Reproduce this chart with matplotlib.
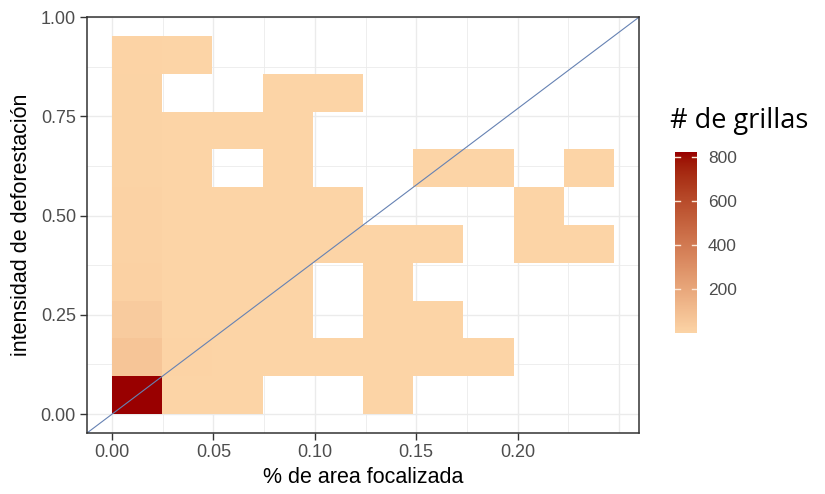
import numpy as np
import matplotlib
matplotlib.use("Agg")
import matplotlib.pyplot as plt
from matplotlib.colors import ListedColormap, Normalize

# ---------------- data ----------------
x_bin_width = 0.02475
y_bin_width = 0.0952
n_xbins = 10
n_ybins = 10
# counts per row (bottom -> top), columns left -> right
row0 = [825, 3, 2, 0, 0, 1, 0, 0, 0, 0]
row1 = [70, 5, 3, 2, 1, 1, 1, 1, 0, 0]
row2 = [42, 4, 3, 2, 0, 1, 1, 0, 0, 0]
row3 = [16, 4, 3, 2, 0, 1, 0, 0, 0, 0]
row4 = [12, 4, 3, 2, 1, 1, 1, 0, 1, 1]
row5 = [11, 3, 2, 2, 1, 0, 0, 0, 1, 0]
row6 = [10, 3, 0, 1, 0, 0, 1, 1, 0, 1]
row7 = [10, 2, 2, 1, 0, 0, 0, 0, 0, 0]
row8 = [8, 0, 0, 1, 1, 0, 0, 0, 0, 0]
row9 = [6, 2, 0, 0, 0, 0, 0, 0, 0, 0]
x_ticks = [0.00, 0.05, 0.10, 0.15, 0.20]
y_ticks = [0.00, 0.25, 0.50, 0.75, 1.00]
legend_ticks = [200, 400, 600, 800]
low_color = "#FCD4A6"
high_color = "#990000"

counts = np.array([row0, row1, row2, row3, row4, row5, row6, row7, row8, row9], dtype=float)
x_edges = np.arange(n_xbins + 1) * x_bin_width
y_edges = np.arange(n_ybins + 1) * y_bin_width
xmax = x_edges[-1]
ymax = y_edges[-1]

# ---------------- Lab gradient (like ggplot scale_fill_gradient) ----------------
def hex2rgb(h):
    h = h.lstrip('#')
    return np.array([int(h[i:i + 2], 16) / 255 for i in (0, 2, 4)])

def srgb2lin(c):
    return np.where(c <= 0.04045, c / 12.92, ((c + 0.055) / 1.055) ** 2.4)

def lin2srgb(c):
    c = np.clip(c, 0, 1)
    return np.where(c <= 0.0031308, 12.92 * c, 1.055 * c ** (1 / 2.4) - 0.055)

M = np.array([[0.4124, 0.3576, 0.1805], [0.2126, 0.7152, 0.0722], [0.0193, 0.1192, 0.9505]])
Minv = np.linalg.inv(M)
white = M @ np.ones(3)

def f(t):
    d = 6 / 29
    return np.where(t > d ** 3, np.cbrt(t), t / (3 * d * d) + 4 / 29)

def finv(t):
    d = 6 / 29
    return np.where(t > d, t ** 3, 3 * d * d * (t - 4 / 29))

def rgb2lab(rgb):
    xyz = M @ srgb2lin(rgb) / white
    fx, fy, fz = f(xyz)
    return np.array([116 * fy - 16, 500 * (fx - fy), 200 * (fy - fz)])

def lab2rgb(lab):
    L, a, b = lab
    fy = (L + 16) / 116
    fx = fy + a / 500
    fz = fy - b / 200
    xyz = np.array([finv(fx), finv(fy), finv(fz)]) * white
    return lin2srgb(Minv @ xyz)

lab_lo = rgb2lab(hex2rgb(low_color))
lab_hi = rgb2lab(hex2rgb(high_color))
cols = [lab2rgb(lab_lo + (lab_hi - lab_lo) * t) for t in np.linspace(0, 1, 256)]
cmap = ListedColormap(cols)
vmin, vmax = 1, counts.max()
norm = Normalize(vmin, vmax)

# ---------------- figure ----------------
W, H = 825, 494
fig = plt.figure(figsize=(W / 100, H / 100), dpi=100)
plt.rcParams['font.family'] = ['Liberation Sans', 'DejaVu Sans']

pl, pr, pt, pb = 87, 639, 17, 433
ax = fig.add_axes([pl / W, 1 - pb / H, (pr - pl) / W, (pb - pt) / H])
ax.set_xlim(-0.05 * xmax, 1.05 * xmax)
ax.set_ylim(-0.05 * ymax, 1.05 * ymax)

# grid (theme_bw)
grid_col = "#EBEBEB"
for v in np.arange(0, 0.26, 0.025):
    major = abs(round(v / 0.05) * 0.05 - v) < 1e-9
    ax.axvline(v, color=grid_col, lw=1.0 if major else 0.6, zorder=0)
for v in np.arange(0, 1.01, 0.125):
    major = abs(round(v / 0.25) * 0.25 - v) < 1e-9
    ax.axhline(v, color=grid_col, lw=1.0 if major else 0.6, zorder=0)

masked = np.ma.masked_where(counts <= 0, counts)
ax.pcolormesh(x_edges, y_edges, masked, cmap=cmap, norm=norm, zorder=1,
              edgecolors='none', antialiased=False)

# diagonal reference line
xs = np.array([-0.05 * xmax, 1.05 * xmax])
ax.plot(xs, xs * (ymax / xmax), color="#6682B3", lw=0.8, zorder=2)

for s in ax.spines.values():
    s.set_color("#333333")
    s.set_linewidth(1.1)

ax.set_xticks(x_ticks)
ax.set_xticklabels([f"{v:.2f}" for v in x_ticks])
ax.set_yticks(y_ticks)
ax.set_yticklabels([f"{v:.2f}" for v in y_ticks])
ax.tick_params(axis='both', which='major', length=5, width=1.0, color="#333333",
               labelcolor="#4D4D4D", labelsize=13, pad=3)
ax.set_xlabel("% de area focalizada", fontsize=15.5, color="black", labelpad=4)
ax.set_ylabel("intensidad de deforestación", fontsize=15.5, color="black", labelpad=6)

# ---------------- colorbar legend ----------------
cb_l, cb_r, cb_t, cb_b = 675, 697, 152, 333
cax = fig.add_axes([cb_l / W, 1 - cb_b / H, (cb_r - cb_l) / W, (cb_b - cb_t) / H])
grad = np.linspace(vmin, vmax, 300).reshape(-1, 1)
cax.imshow(grad, cmap=cmap, norm=norm, aspect='auto', origin='lower',
           extent=[0, 1, vmin, vmax], interpolation='bilinear')
cax.set_xlim(0, 1)
cax.set_ylim(vmin, vmax)
for v in legend_ticks:
    cax.plot([0, 0.22], [v, v], color='#FCE8D8', lw=1.0)
    cax.plot([0.78, 1], [v, v], color='#FCE8D8', lw=1.0)
for s in cax.spines.values():
    s.set_visible(False)
cax.set_xticks([])
cax.yaxis.tick_right()
cax.set_yticks(legend_ticks)
cax.set_yticklabels([str(v) for v in legend_ticks])
cax.tick_params(axis='y', length=0, pad=8, labelsize=12.5, labelcolor="#4D4D4D")

fig.text(670 / W, 1 - 121 / H, "# de grillas", fontsize=19.5, va='center', ha='left',
         family=['Open Sans', 'DejaVu Sans'], color='black')

fig.savefig("out.png", dpi=100, facecolor='white')
